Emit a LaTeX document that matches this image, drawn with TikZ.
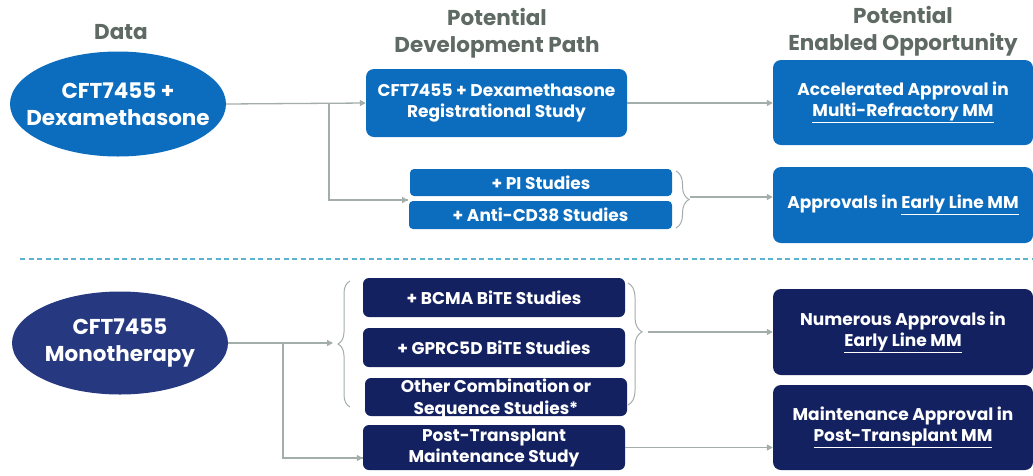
\documentclass[tikz,border=0pt]{standalone}
\usepackage{fontspec}
\setmainfont{Poppins}
\usetikzlibrary{arrows.meta,decorations.pathreplacing,shapes.geometric,calc}

\definecolor{midblue}{RGB}{12,108,190}
\definecolor{navybox}{RGB}{20,33,96}
\definecolor{navyoval}{RGB}{37,56,128}
\definecolor{headgray}{RGB}{95,106,100}
\definecolor{linkgray}{RGB}{163,173,170}
\definecolor{sepblue}{RGB}{90,180,207}

\tikzset{
  hdr/.style={text=headgray, font=\bfseries\fontsize{21.5}{27}\selectfont, align=center},
  ovaltext/.style={text=white, align=center, font=\bfseries\fontsize{21.5}{27}\selectfont},
  oval/.style={ellipse, inner sep=0pt},
  card/.style={rounded corners=8pt, text=white, align=center, inner sep=0pt,
    font=\bfseries\fontsize{17}{21}\selectfont},
  slim/.style={rounded corners=4pt, text=white, align=center, inner sep=0pt,
    font=\bfseries\fontsize{17}{21}\selectfont},
  link/.style={draw=linkgray, line width=1.3pt,
    -{Triangle[width=6pt,length=6pt]}},
  plain/.style={draw=linkgray, line width=1.3pt},
  curly/.style={draw=linkgray, line width=1pt,
    decorate, decoration={brace, amplitude=#1}},
}

\begin{document}
\begin{tikzpicture}[x=1pt, y=-1pt]
\useasboundingbox (0,0) rectangle (1033,475);

% column headings
\node[hdr] (hdata) at (121,32) {Data};
\node[hdr] (hpath) at (497,33) {Potential\\Development Path};
\node[hdr] (hopp)  at (903,31) {Potential\\Enabled Opportunity};

% upper row: combination with dexamethasone
\node[oval, fill=midblue, minimum width=216pt, minimum height=105pt]
  (dex) at (118,104) {};
\node[ovaltext] (dextext) at (dex.center) {CFT7455 +\\Dexamethasone};
\node[card, fill=midblue, minimum width=261pt, minimum height=68pt]
  (reg) at (496.5,103) {CFT7455 + Dexamethasone\\Registrational Study};
\node[slim, fill=midblue, minimum width=262pt, minimum height=27pt]
  (pi) at (541,182.5) {+ PI Studies};
\node[slim, fill=midblue, minimum width=263pt, minimum height=28pt]
  (cd38) at (540.5,215) {+ Anti-CD38 Studies};
\node[card, fill=midblue, minimum width=260pt, minimum height=85pt]
  (accel) at (903,102.5) {Accelerated Approval in\\\underline{Multi-Refractory MM}};
\node[card, fill=midblue, minimum width=260pt, minimum height=76pt]
  (early) at (903,205) {Approvals in \underline{Early Line MM}};

% separator
\draw[sepblue, line width=1.2pt, dash pattern=on 5pt off 3.5pt] (20,259) -- (1033,259);

% lower row: monotherapy
\node[oval, fill=navyoval, minimum width=216pt, minimum height=103pt]
  (mono) at (120,343) {};
\node[ovaltext] (monotext) at (mono.center) {CFT7455\\Monotherapy};
\node[card, rounded corners=6pt, fill=navybox, minimum width=262pt, minimum height=39pt]
  (bcma) at (494,297.5) {+ BCMA BiTE Studies};
\node[card, rounded corners=6pt, fill=navybox, minimum width=262pt, minimum height=39pt]
  (gprc) at (494,347.5) {+ GPRC5D BiTE Studies};
\node[card, rounded corners=6pt, fill=navybox, minimum width=262pt, minimum height=38pt,
  font=\bfseries\fontsize{17}{22}\selectfont]
  (other) at (496,397) {};
\node[text=white, align=center, font=\bfseries\fontsize{17}{22}\selectfont,
  inner sep=0pt] (othertext) at (496,399) {Other Combination or\\Sequence Studies*};
\node[card, rounded corners=6pt, fill=navybox, minimum width=262pt, minimum height=45pt]
  (post) at (494,447.5) {Post-Transplant\\Maintenance Study};
\node[card, fill=navybox, minimum width=260pt, minimum height=86pt]
  (numer) at (903,332) {Numerous Approvals in\\\underline{Early Line MM}};
\node[card, fill=navybox, minimum width=260pt, minimum height=85pt]
  (maint) at (903,427.5) {Maintenance Approval in\\\underline{Post-Transplant MM}};

% upper connectors
\coordinate (split1) at (329,103);
\coordinate (pair) at (408,200);
\draw[link] (dex.east) -- (reg.west);
\draw[plain] (split1) |- (pair);
\draw[link] (split1 |- pair) -- (pair);
\draw[link] (reg.east) -- (reg.east -| accel.west);
\draw[curly=13pt] (676,171) -- (676,228);
\coordinate (tip1) at (690,197);
\draw[link] (tip1) -- (tip1 -| early.west);

% lower connectors
\draw[curly=12pt] (350,407) -- (350,281);
\coordinate (tip2) at (338,343);
\draw[link] (mono.east |- tip2) -- ([xshift=-5pt]tip2);
\coordinate (split2) at (283,343);
\coordinate (postin) at (post.west |- 0,458);
\draw[plain] (split2) |- (postin);
\draw[link] (split2 |- postin) -- (postin);
\draw[curly=14pt, decoration={aspect=0.4}] (628,283) -- (628,405);
\coordinate (tip3) at (648,332);
\draw[link] (tip3) -- (tip3 -| numer.west);
\draw[link] (post.east) -- (post.east -| maint.west);
\end{tikzpicture}
\end{document}
